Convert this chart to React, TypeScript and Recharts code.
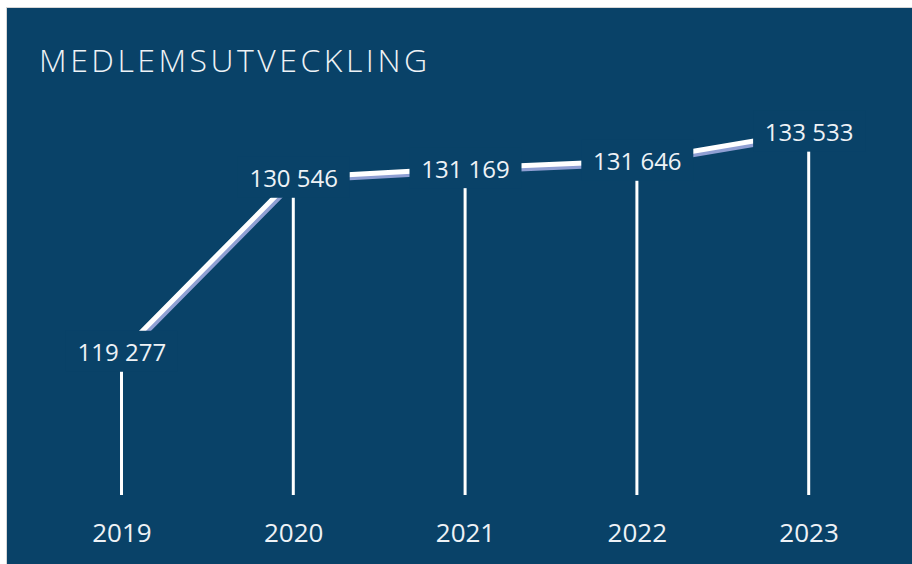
import React from "react";
import { ComposedChart, Bar, Line, XAxis, YAxis, LabelList } from "recharts";

const years = ["2019", "2020", "2021", "2022", "2023"];
const members = [119277, 130546, 131169, 131646, 133533];

const BG = "#094268";
const TEXT = "#eef2f6";
const SHADOW = "#8f9fd3";
const FONT = "'Open Sans', sans-serif";

const data = years.map((year, i) => ({ year, members: members[i] }));

const fmt = (v: number) => v.toLocaleString("sv-SE").replace(/\u00a0/g, " ");

function ValueLabel(props: any) {
  const { x, y, value } = props;
  return (
    <g>
      <rect x={x - 56} y={y - 21} width={112} height={41} fill={BG} />
      <text
        x={x}
        y={y}
        textAnchor="middle"
        dominantBaseline="central"
        fill={TEXT}
        fontSize={24}
        fontFamily={FONT}
      >
        {fmt(value)}
      </text>
    </g>
  );
}

function YearTick(props: any) {
  const { x, y, payload } = props;
  return (
    <text x={x} y={y + 47} textAnchor="middle" fill={TEXT} fontSize={26} fontFamily={FONT}>
      {payload.value}
    </text>
  );
}

export default function App() {
  return (
    <div style={{ position: "relative", width: 912, height: 564, background: "#fff", overflow: "hidden" }}>
      <style>{`body{margin:0} .shadow-line .recharts-line-curve{transform:translate(2px,3px)}`}</style>
      <div
        style={{
          position: "absolute",
          left: 6,
          top: 7,
          width: 920,
          height: 570,
          background: BG,
          borderTop: "1px solid #d6d6d6",
          borderLeft: "1px solid #d6d6d6",
        }}
      />
      <div
        style={{
          position: "absolute",
          left: 39,
          top: 36,
          color: TEXT,
          fontFamily: FONT,
          fontWeight: 300,
          fontSize: 32,
          letterSpacing: 3.5,
          lineHeight: "48px",
        }}
      >
        MEDLEMSUTVECKLING
      </div>
      <div style={{ position: "absolute", left: 0, top: 0 }}>
        <ComposedChart
          width={912}
          height={564}
          data={data}
          margin={{ top: 109, right: 17, bottom: 0, left: 36 }}
        >
          <YAxis hide domain={[110000, 135000]} allowDataOverflow />
          <XAxis
            dataKey="year"
            axisLine={false}
            tickLine={false}
            tickSize={0}
            tickMargin={0}
            height={69}
            tick={<YearTick />}
            interval={0}
          />
          <Bar dataKey="members" barSize={3} fill="#ffffff" isAnimationActive={false} />
          <Line
            className="shadow-line"
            dataKey="members"
            stroke={SHADOW}
            strokeWidth={5}
            dot={false}
            activeDot={false}
            isAnimationActive={false}
          />
          <Line
            dataKey="members"
            stroke="#ffffff"
            strokeWidth={5}
            dot={false}
            activeDot={false}
            isAnimationActive={false}
          >
            <LabelList dataKey="members" content={<ValueLabel />} />
          </Line>
        </ComposedChart>
      </div>
    </div>
  );
}
